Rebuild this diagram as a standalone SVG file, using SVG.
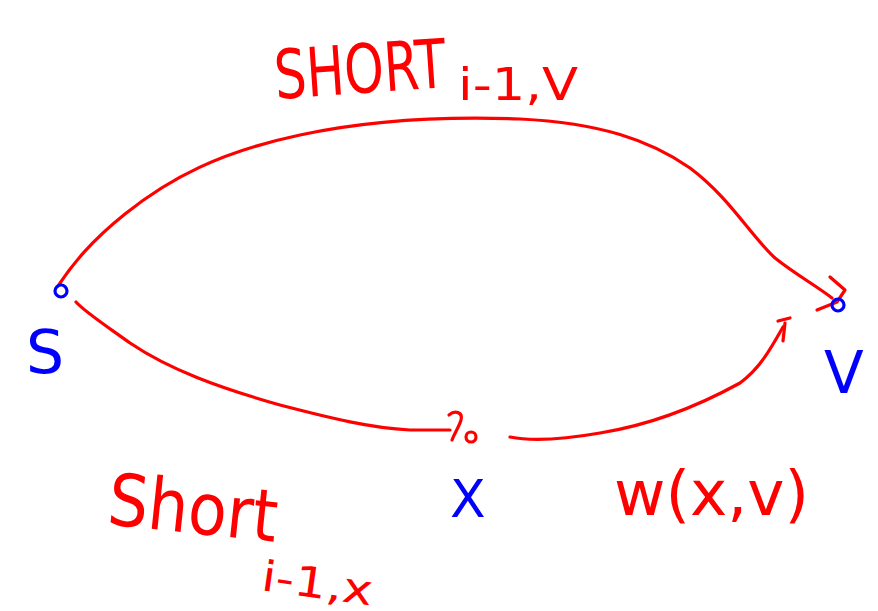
<svg xmlns="http://www.w3.org/2000/svg" width="878" height="611" viewBox="0 0 878 611">
<style>
.e{fill:none;stroke:#ff0000;stroke-width:3.2;stroke-linecap:round;stroke-linejoin:round}
.n{fill:none;stroke:#0000ff;stroke-width:3.2}
.nr{fill:none;stroke:#ff0000;stroke-width:3.2}
.tr{fill:#ff0000;font-family:"DejaVu Sans","Liberation Sans",sans-serif}
.tb{fill:#0000ff;font-family:"DejaVu Sans","Liberation Sans",sans-serif}
</style>
<rect width="878" height="611" fill="#ffffff"/>
<g id="connectors">
<path class="e" d="M58,286 C72,265 90,242 125,214 C170,178 220,152 300,135 C370,120 440,116 520,119 C600,123 650,140 690,168 C730,198 750,235 775,258 C795,274 815,285 832,298"/>
<path class="e" d="M830,277 L845,290 L837,302 L817,310"/>
<path class="e" d="M76,302 C85,312 105,325 130,343 C170,370 220,388 280,405 C330,418 370,428 410,430 L450,430"/>
<path class="e" d="M449,415 C455,410 463,412 461,420 C459,427 455,432 452,440"/>
<path class="e" d="M510,437 C530,441 560,440 600,433 C650,425 700,405 740,383 C760,368 770,350 783,327"/>
<path class="e" d="M778,321 L790,318 M785,323 L783,341"/>
</g>
<g id="node-s">
<circle class="n" cx="61" cy="291" r="6"/>
<text class="tb" x="26" y="373" font-size="60">S</text>
</g>
<g id="node-v">
<circle class="n" cx="838" cy="305" r="6"/>
<text class="tb" x="824" y="393" font-size="58">V</text>
</g>
<g id="node-x">
<circle class="nr" cx="471" cy="437" r="5"/>
<text class="tb" x="450" y="517" font-size="52">X</text>
</g>
<g id="label-top">
<text class="tr" x="276" y="99" font-size="68" textLength="172" lengthAdjust="spacingAndGlyphs" transform="rotate(-4 276 99)">SHORT</text>
<text class="tr" x="458" y="100" font-size="44" textLength="120" lengthAdjust="spacingAndGlyphs">i-1,V</text>
</g>
<g id="label-bottom-left">
<text class="tr" x="106" y="524" font-size="72" textLength="170" lengthAdjust="spacingAndGlyphs" transform="rotate(6 106 524)">Short</text>
<text class="tr" x="260" y="590" font-size="42" textLength="112" lengthAdjust="spacingAndGlyphs" transform="rotate(8 260 590)">i-1,x</text>
</g>
<g id="label-bottom-right">
<text class="tr" x="614" y="515" font-size="62" textLength="195" lengthAdjust="spacingAndGlyphs">w(x,v)</text>
</g>
</svg>
